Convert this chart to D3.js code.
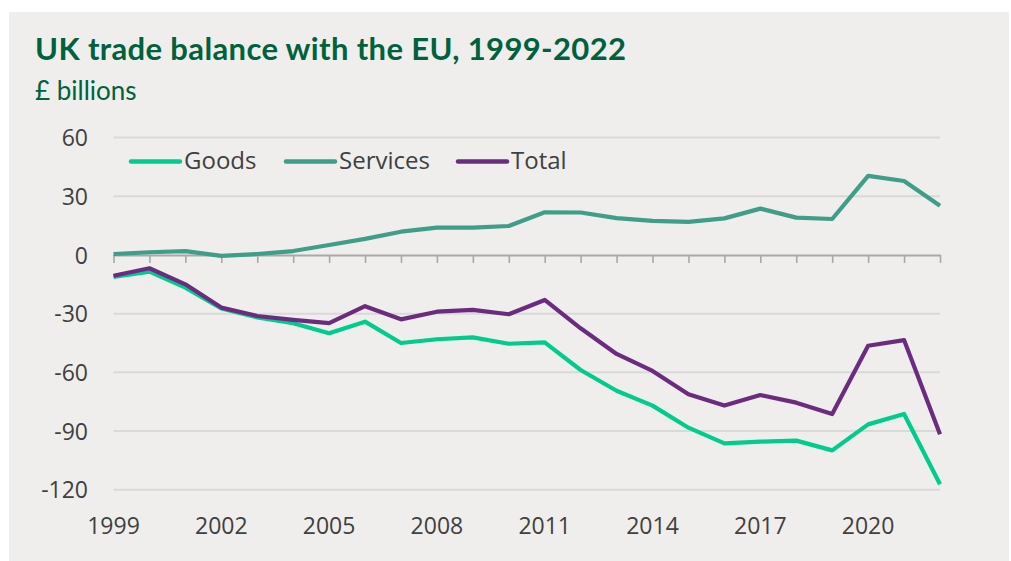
<!DOCTYPE html>
<html>
<head>
<meta charset="utf-8">
<script src="https://cdn.jsdelivr.net/npm/d3@7"></script>
<style>
  html, body { margin: 0; padding: 0; background: #ffffff; }
  svg { display: block; }
</style>
</head>
<body>
<svg id="chart" width="1011" height="561"></svg>
<script>
// UK trade balance with the EU, £ billions
const years = d3.range(1999, 2023);
const goods = [-11.2, -8.5, -16.7, -27.3, -31.9, -34.9, -40.0, -34.1, -45.0, -43.1, -42.1, -45.4,
               -44.7, -58.8, -69.4, -77.0, -88.3, -96.3, -95.4, -94.9, -99.9, -86.6, -81.3, -117.2];
const services = [0.5, 1.4, 2.0, -0.5, 0.5, 2.0, 5.1, 8.2, 11.9, 14.0, 14.0, 14.8,
                  21.8, 21.7, 18.8, 17.4, 16.9, 18.7, 23.7, 19.1, 18.4, 40.4, 37.8, 25.2];
const total = [-10.6, -6.8, -15.0, -26.9, -31.2, -33.2, -34.8, -26.2, -32.9, -29.0, -28.1, -30.3,
               -23.0, -37.5, -50.6, -59.3, -71.2, -77.0, -71.6, -75.5, -81.3, -46.4, -43.5, -91.7];
const yTicks = [-120, -90, -60, -30, 0, 30, 60];
const xTickLabels = [1999, 2002, 2005, 2008, 2011, 2014, 2017, 2020];

const seriesList = [
  { name: "Goods", values: goods, color: "#00cc8e" },
  { name: "Services", values: services, color: "#3e9e87" },
  { name: "Total", values: total, color: "#6b2c80" }
];

const svg = d3.select("#chart");

// panel background
svg.append("rect")
  .attr("x", 9).attr("y", 12)
  .attr("width", 1000).attr("height", 549)
  .attr("fill", "#efeeec");

// titles
svg.append("text")
  .attr("x", 35).attr("y", 60)
  .attr("fill", "#00613e")
  .attr("font-family", "Lato, 'Open Sans', sans-serif")
  .attr("font-weight", 700)
  .attr("font-size", 31)
  .attr("textLength", 591)
  .attr("lengthAdjust", "spacing")
  .text("UK trade balance with the EU, 1999-2022");

svg.append("text")
  .attr("x", 35).attr("y", 100)
  .attr("fill", "#00613e")
  .attr("font-family", "Lato, 'Open Sans', sans-serif")
  .attr("font-size", 26)
  .text("£ billions");

const x = d3.scaleLinear().domain([1999, 2022]).range([113.5, 940]);
const y = d3.scaleLinear().domain([-120, 60]).range([489.7, 137.6]);

const tickFont = "'Open Sans', sans-serif";
const textColor = "#404040";

// horizontal gridlines
svg.append("g")
  .selectAll("line")
  .data(yTicks.filter(d => d !== 0))
  .join("line")
  .attr("x1", x(1999)).attr("x2", x(2022))
  .attr("y1", d => y(d)).attr("y2", d => y(d))
  .attr("stroke", "#d9d9d9")
  .attr("stroke-width", 2);

// y axis labels (plain hyphen for negatives)
const yAxis = d3.axisLeft(y).tickValues(yTicks).tickSize(0).tickPadding(0)
  .tickFormat(d => String(d));
const gy = svg.append("g")
  .attr("transform", `translate(${88},0)`)
  .call(yAxis);
gy.select(".domain").remove();
gy.selectAll("text")
  .attr("font-family", tickFont)
  .attr("font-size", 23)
  .attr("fill", textColor)
  .attr("dy", "0.36em");

// zero axis with yearly tick marks
const xAxis = d3.axisBottom(x)
  .tickValues(years)
  .tickSize(8)
  .tickSizeOuter(0)
  .tickFormat("");
const gx = svg.append("g")
  .attr("transform", `translate(0,${y(0)})`)
  .call(xAxis);
gx.select(".domain").attr("stroke", "#a8a8a8").attr("stroke-width", 2);
gx.selectAll(".tick line").attr("stroke", "#a8a8a8").attr("stroke-width", 1.6);

// year labels at the bottom
svg.append("g")
  .selectAll("text")
  .data(xTickLabels)
  .join("text")
  .attr("x", d => x(d))
  .attr("y", 534)
  .attr("text-anchor", "middle")
  .attr("font-family", tickFont)
  .attr("font-size", 23)
  .attr("fill", textColor)
  .text(d => d);

// series lines
const line = d3.line()
  .x((d, i) => x(years[i]))
  .y(d => y(d));

const drawOrder = [seriesList[1], seriesList[0], seriesList[2]];
svg.append("g")
  .selectAll("path")
  .data(drawOrder)
  .join("path")
  .attr("d", d => line(d.values))
  .attr("fill", "none")
  .attr("stroke", d => d.color)
  .attr("stroke-width", 4.2)
  .attr("stroke-linejoin", "round");

// legend
const legendItems = [
  { s: seriesList[0], x0: 131 },
  { s: seriesList[1], x0: 286 },
  { s: seriesList[2], x0: 458 }
];
const lg = svg.append("g");
legendItems.forEach(it => {
  lg.append("line")
    .attr("x1", it.x0).attr("x2", it.x0 + 49)
    .attr("y1", 161.5).attr("y2", 161.5)
    .attr("stroke", it.s.color)
    .attr("stroke-width", 4.5)
    .attr("stroke-linecap", "round");
  lg.append("text")
    .attr("x", it.x0 + 53)
    .attr("y", 169)
    .attr("font-family", tickFont)
    .attr("font-size", 24)
    .attr("fill", textColor)
    .text(it.s.name);
});
</script>
</body>
</html>
